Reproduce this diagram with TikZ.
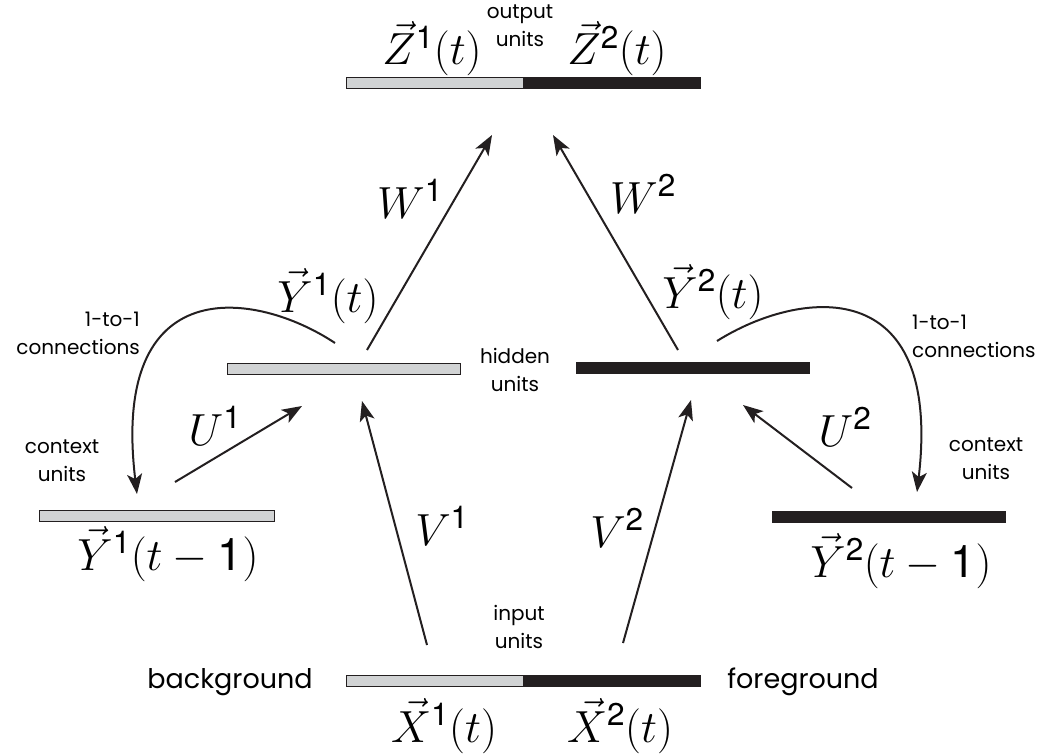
\RequirePackage{fix-cm}
\documentclass[tikz,border=0pt]{standalone}
\usepackage{amsmath}
\usepackage[no-math]{fontspec}
\newfontfamily\labelfont{Poppins}
\newfontfamily\digfont{TeX Gyre Heros}
\usetikzlibrary{arrows.meta}

\definecolor{lgray}{HTML}{D1D3D4}
\definecolor{dark}{HTML}{231F20}
\newcommand\sdig[1]{\text{\digfont #1}}

\begin{document}
\begin{tikzpicture}[x=1pt,y=-1pt,font=\labelfont\fontsize{20}{28}\selectfont,
  bar/.style={draw=dark,line width=0.6pt,minimum height=11pt,minimum width=233pt,inner sep=0pt},
  arr/.style={-{Stealth[length=20pt,width=15pt,inset=5pt]},line width=2pt,draw=dark},
  sym/.style={anchor=base,inner sep=0pt,font=\fontsize{45}{50}\selectfont},
  side/.style={anchor=base,inner sep=0pt,font=\labelfont\fontsize{27}{30}\selectfont},
  note/.style={align=center,inner sep=0pt}]
\useasboundingbox (0,0) rectangle (1048,754);
% unit layers: output and input are split into the two streams
\foreach \n/\y in {out/83,in/681}{
  \node[bar,fill=lgray,minimum width=177pt] (\n1) at (434.5,\y) {};
  \node[bar,fill=dark,minimum width=177pt] (\n2) at (611.5,\y) {};
}
\node[bar,fill=lgray] (hid1) at (343.5,368.5) {};
\node[bar,fill=dark] (hid2) at (692.5,367.5) {};
\node[bar,fill=lgray,minimum width=235pt] (ctx1) at (156.5,516) {};
\node[bar,fill=dark] (ctx2) at (888.5,516.5) {};
% layer texts
\node[note] (outlab) at (520,26) {output\\units};
\node[note] (hidlab) at (515,369.5) {hidden\\units};
\node[note] (inlab) at (519,626.5) {input\\units};
\node[note,align=right,anchor=east] (cpl1) at (140,333.5) {1-to-1\\connections};
\node[note,align=left,anchor=west] (cpl2) at (912,336.5) {1-to-1\\connections};
\node[note] (ctxlab1) at (62,461) {context\\units};
\node[note] (ctxlab2) at (986,459) {context\\units};
\node[side] (bg) at (230,688) {background};
\node[side] (fg) at (803,688) {foreground};
% activations and weights
\node[sym] (z1) at (432,65) {$\vec{Z}^{\sdig1}(t)$};
\node[sym] (z2) at (617,65) {$\vec{Z}^{\sdig2}(t)$};
\node[sym] (y1) at (328,312) {$\vec{Y}^{\sdig1}(t)$};
\node[sym] (y2) at (713,308) {$\vec{Y}^{\sdig2}(t)$};
\node[sym] (yc1) at (168,570) {$\vec{Y}^{\sdig1}(t-\sdig1)$};
\node[sym] (yc2) at (901,577) {$\vec{Y}^{\sdig2}(t-\sdig1)$};
\node[sym] (x1) at (444,742) {$\vec{X}^{\sdig1}(t)$};
\node[sym] (x2) at (620,742) {$\vec{X}^{\sdig2}(t)$};
\node[sym] (w1) at (410,218) {$W^{\sdig1}$};
\node[sym] (w2) at (643,213) {$W^{\sdig2}$};
\node[sym] (u1) at (215,445) {$U^{\sdig1}$};
\node[sym] (u2) at (845,446) {$U^{\sdig2}$};
\node[sym] (v1) at (442,545) {$V^{\sdig1}$};
\node[sym] (v2) at (617,547) {$V^{\sdig2}$};
% arrow ends
\coordinate (w1a) at (367,350);  \coordinate (w1b) at (492,135);
\coordinate (w2a) at (678,350);  \coordinate (w2b) at (553,135);
\coordinate (u1a) at (175,482);  \coordinate (u1b) at (302,406);
\coordinate (u2a) at (852,488);  \coordinate (u2b) at (743,405);
\coordinate (v1a) at (427,645);  \coordinate (v1b) at (362,401);
\coordinate (v2a) at (623,643);  \coordinate (v2b) at (691,400);
\coordinate (c1a) at (335,343);  \coordinate (c1b) at (137,494);
\coordinate (c2a) at (717,341);  \coordinate (c2b) at (917,492);
\draw[arr] (w1a) -- (w1b);
\draw[arr] (w2a) -- (w2b);
\draw[arr] (u1a) -- (u1b);
\draw[arr] (u2a) -- (u2b);
\draw[arr] (v1a) -- (v1b);
\draw[arr] (v2a) -- (v2b);
% copy of the hidden layer into the context layer
\draw[arr] (c1a) .. controls (255,290) and (110,270) .. (c1b);
\draw[arr] (c2a) .. controls (798,290) and (943,270) .. (c2b);
\end{tikzpicture}
\end{document}
